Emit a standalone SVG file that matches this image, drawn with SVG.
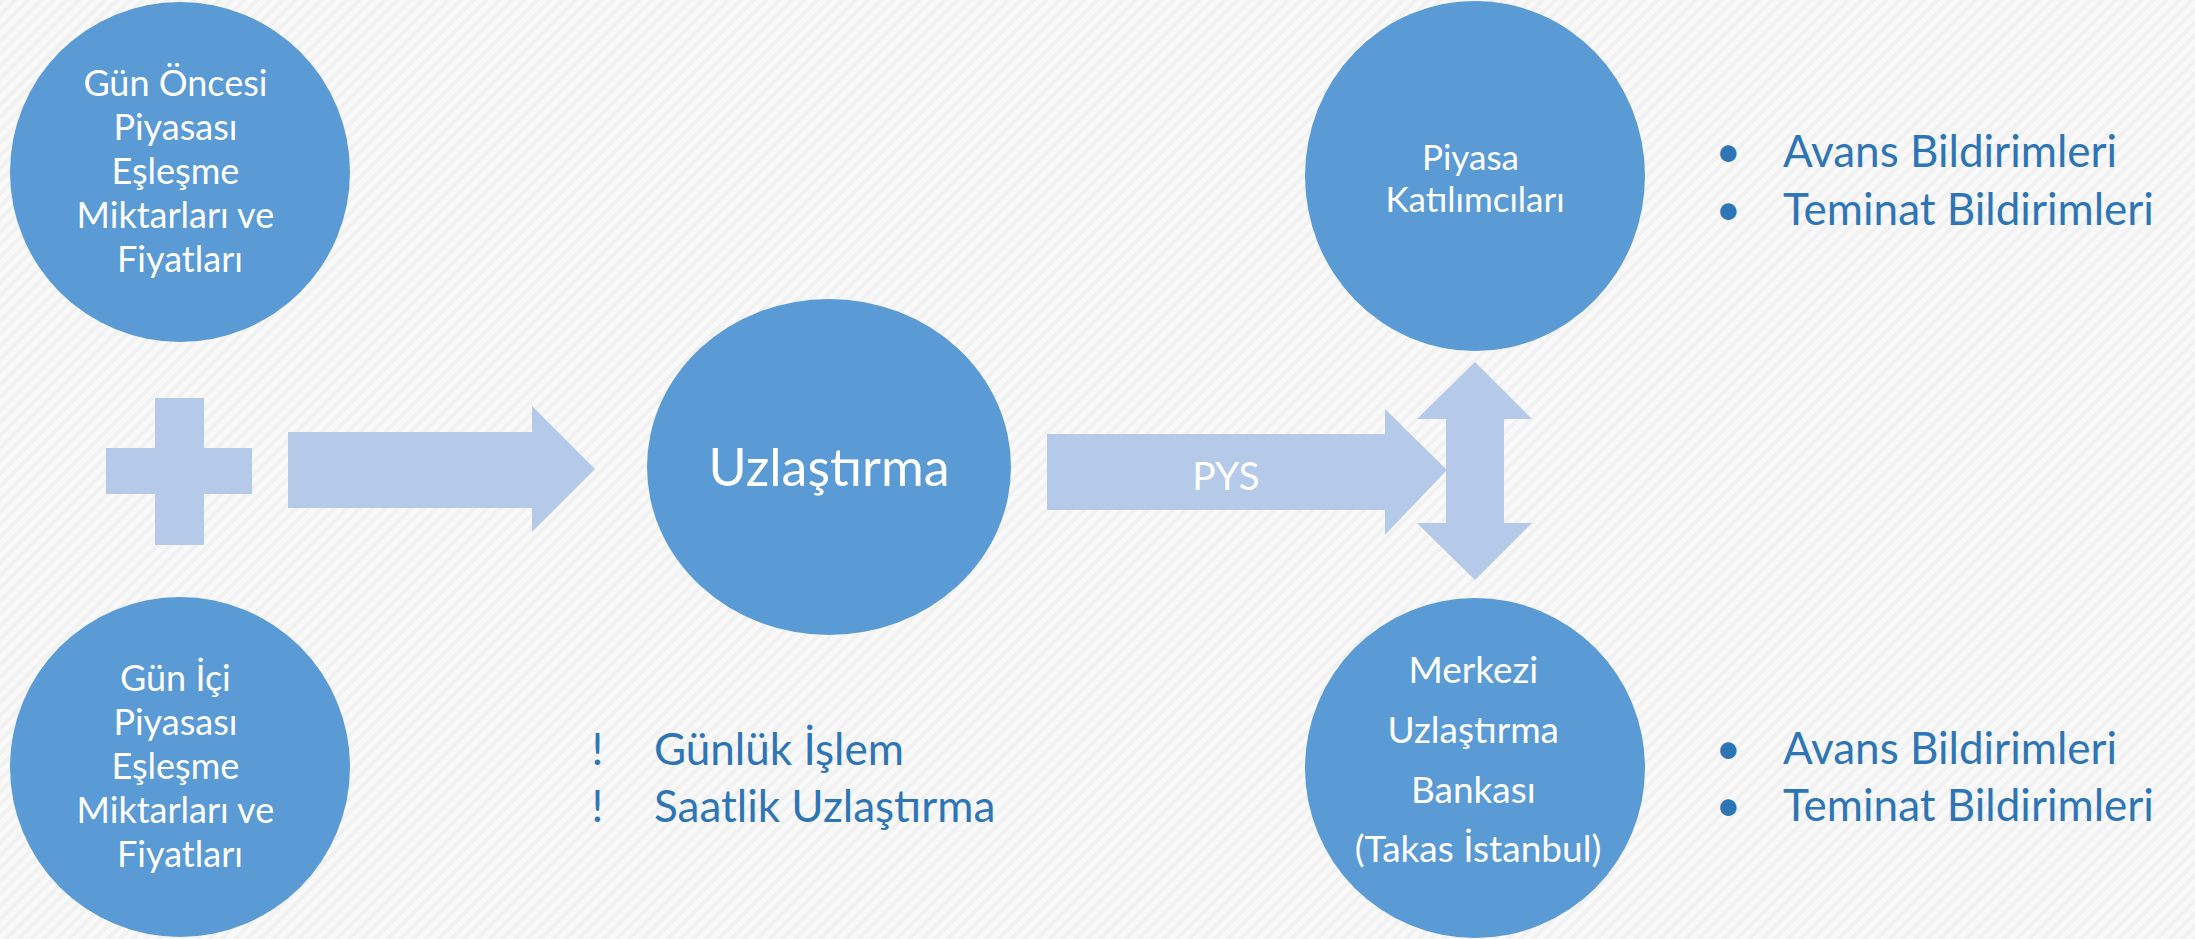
<svg xmlns="http://www.w3.org/2000/svg" width="2195" height="939" viewBox="0 0 2195 939">
  <defs>
    <!-- faint diagonal texture of the slide background -->
    <pattern id="bgStripes" width="9" height="9" patternUnits="userSpaceOnUse" patternTransform="rotate(45)">
      <rect width="9" height="9" fill="#f9f9f9"/>
      <rect width="4" height="9" fill="#f1f1f1"/>
    </pattern>
    <style>
      .node { fill: #5b9bd5; }
      .flow { fill: #b4cae8; }
      .inner { font-family: Lato, "Open Sans", "Liberation Sans", sans-serif; fill: #ffffff; text-anchor: middle; }
      .note { font-family: Lato, "Open Sans", "Liberation Sans", sans-serif; fill: #2e75b6; }
      .mark { text-anchor: middle; }
    </style>
  </defs>

  <rect width="2195" height="939" fill="url(#bgStripes)"/>

  <!-- block arrows and the plus sign -->
  <g id="connectors">
    <path id="plus" class="flow" d="M155,398 H204 V448 H252 V494 H204 V545 H155 V494 H106 V448 H155 Z"/>
    <path id="arrow-to-settlement" class="flow" d="M288,432 H532 V406 L595,469 L532,532 V508 H288 Z"/>
    <g id="arrow-pys">
      <path class="flow" d="M1047,434 H1385 V409 L1447,470 L1385,535 V510 H1047 Z"/>
      <text class="inner" x="1226" y="490" font-size="39">PYS</text>
    </g>
    <path id="arrow-updown" class="flow" d="M1475,362 L1532,419 H1504 V523 H1532 L1475,580 L1417,523 H1446 V419 H1417 Z"/>
  </g>

  <g id="day-ahead">
    <circle class="node" cx="180" cy="172" r="170"/>
    <text class="inner" font-size="36">
      <tspan x="180" y="96">Gün Öncesi</tspan>
      <tspan x="180" y="140">Piyasası</tspan>
      <tspan x="180" y="184">Eşleşme</tspan>
      <tspan x="180" y="228">Miktarları ve</tspan>
      <tspan x="180" y="272">Fiyatları</tspan>
    </text>
  </g>

  <g id="intraday">
    <circle class="node" cx="180" cy="767" r="170"/>
    <text class="inner" font-size="36">
      <tspan x="180" y="691">Gün İçi</tspan>
      <tspan x="180" y="735">Piyasası</tspan>
      <tspan x="180" y="779">Eşleşme</tspan>
      <tspan x="180" y="823">Miktarları ve</tspan>
      <tspan x="180" y="867">Fiyatları</tspan>
    </text>
  </g>

  <g id="settlement">
    <ellipse class="node" cx="829" cy="467" rx="182" ry="168"/>
    <text class="inner" x="829" y="486" font-size="52">Uzlaştırma</text>
  </g>

  <g id="settlement-notes">
    <text class="note" font-size="44">
      <tspan class="mark" x="603" y="765">!</tspan>
      <tspan x="654" y="765">Günlük İşlem</tspan>
      <tspan class="mark" x="603" y="822">!</tspan>
      <tspan x="654" y="822">Saatlik Uzlaştırma</tspan>
    </text>
  </g>

  <g id="participants">
    <ellipse class="node" cx="1475" cy="176" rx="170" ry="175"/>
    <text class="inner" font-size="35">
      <tspan x="1475" y="170">Piyasa</tspan>
      <tspan x="1475" y="212">Katılımcıları</tspan>
    </text>
  </g>

  <g id="participants-notes">
    <text class="note" font-size="44">
      <tspan class="mark" x="1734" y="167">•</tspan>
      <tspan x="1783" y="167">Avans Bildirimleri</tspan>
      <tspan class="mark" x="1734" y="225">•</tspan>
      <tspan x="1783" y="225">Teminat Bildirimleri</tspan>
    </text>
  </g>

  <g id="clearing-bank">
    <ellipse class="node" cx="1475" cy="768" rx="170" ry="170"/>
    <text class="inner" font-size="37">
      <tspan x="1478" y="683">Merkezi</tspan>
      <tspan x="1478" y="743">Uzlaştırma</tspan>
      <tspan x="1478" y="803">Bankası</tspan>
      <tspan x="1478" y="862">(Takas İstanbul)</tspan>
    </text>
  </g>

  <g id="clearing-bank-notes">
    <text class="note" font-size="44">
      <tspan class="mark" x="1734" y="764">•</tspan>
      <tspan x="1783" y="764">Avans Bildirimleri</tspan>
      <tspan class="mark" x="1734" y="821">•</tspan>
      <tspan x="1783" y="821">Teminat Bildirimleri</tspan>
    </text>
  </g>
</svg>
